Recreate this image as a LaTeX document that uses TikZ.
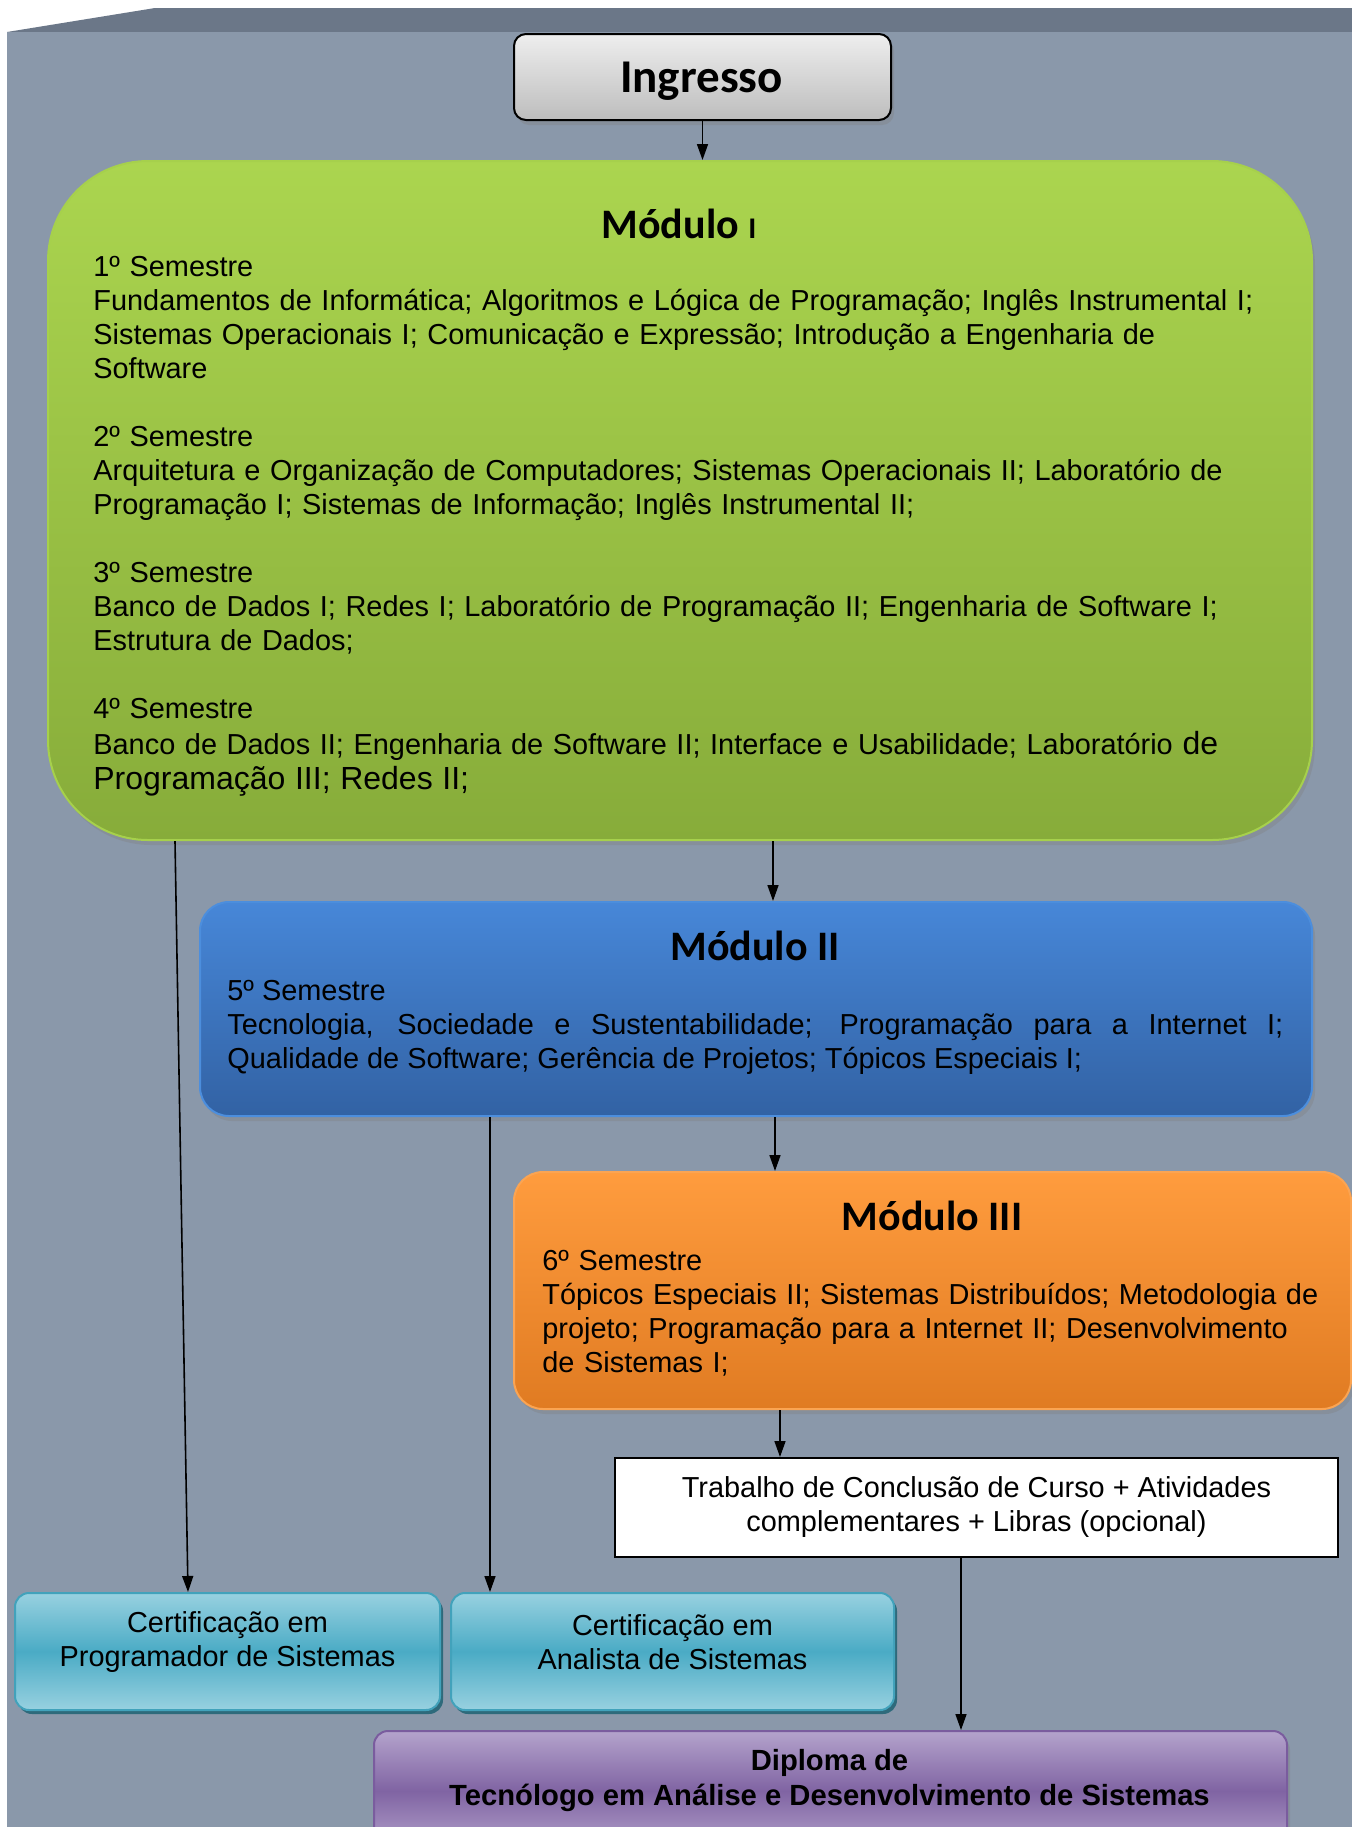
\documentclass[tikz,border=0pt]{standalone}
\usepackage{fontspec}
\setmainfont{Liberation Sans}
\newfontfamily\calibri{Carlito}
\usetikzlibrary{arrows.meta,shadows,calc}
\definecolor{bgfront}{HTML}{8A98AA}
\definecolor{bgtop}{HTML}{6B7788}
\definecolor{g1}{HTML}{ABD54F}
\definecolor{g2}{HTML}{87AC3A}
\definecolor{grim}{HTML}{A6D04C}
\definecolor{b1}{HTML}{4787D8}
\definecolor{b2}{HTML}{3262A4}
\definecolor{brim}{HTML}{4C8EDD}
\definecolor{o1}{HTML}{FF9C3E}
\definecolor{o2}{HTML}{E07B22}
\definecolor{orim}{HTML}{FBA452}
\definecolor{t1}{HTML}{98D1E0}
\definecolor{t2}{HTML}{4AABC5}
\definecolor{trim}{HTML}{42A2BB}
\definecolor{tshd}{HTML}{2E6A7B}
\definecolor{p1}{HTML}{B4A3CC}
\definecolor{p2}{HTML}{8064A3}
\definecolor{prim}{HTML}{7A5C9E}
\definecolor{gr1}{HTML}{EEEEEE}
\definecolor{gr2}{HTML}{BDBDBD}
\begin{document}
\begin{tikzpicture}[x=0.5pt,y=-0.5pt,
  box/.style={anchor=north west, inner sep=0pt, line width=1pt},
  body/.style={font=\fontsize{14.45}{17}\selectfont, inner sep=0pt},
  ttl/.style={font=\calibri\bfseries\fontsize{21}{24}\selectfont, inner sep=0pt, anchor=base},
  arr/.style={-{Triangle[length=8pt,width=5.5pt]}, line width=0.8pt, black},
  shd/.style={drop shadow={shadow xshift=1.5pt, shadow yshift=-2.5pt, opacity=0.35}},
  tealbox/.style={box, rounded corners=7pt, minimum height=58.5pt, top color=t1, bottom color=t1, middle color=t2, draw=trim,
    drop shadow={shadow xshift=1.5pt, shadow yshift=-2pt, opacity=1, fill=tshd}},
]
\clip (0,0) rectangle (1352,1827);
\fill[white] (0,0) rectangle (1352,1827);
\fill[bgtop] (7,32) -- (155,8) -- (1352,8) -- (1352,32) -- cycle;
\fill[bgfront] (7,32) rectangle (1352,1827);

% Ingresso
\node[box, shd, rounded corners=6pt, minimum width=188.5pt, minimum height=43pt,
  top color=gr1, bottom color=gr2, draw=black] (ing) at (513,33) {};
\node[font=\calibri\bfseries\fontsize{23.5}{26}\selectfont, inner sep=0pt, anchor=base] (ingt) at (701.5,92) {Ingresso};

% Module I
\node[box, shd, rounded corners=50pt, minimum width=632pt, minimum height=339.5pt,
  top color=g1, bottom color=g2, draw=grim] (m1) at (47,160) {};
\node[ttl] (m1h) at (679,238) {Módulo {\fontsize{15}{15}\selectfont I}};
\node[body, anchor=base west, text width=610pt, align=left] (m1t) at (93,276) {%
1º Semestre\\
Fundamentos de Informática; Algoritmos e Lógica de Programação; Inglês Instrumental I;\\
Sistemas Operacionais I; Comunicação e Expressão; Introdução a Engenharia de\\
Software\\[17pt]
2º Semestre\\
Arquitetura e Organização de Computadores; Sistemas Operacionais II; Laboratório de\\
Programação I; Sistemas de Informação; Inglês Instrumental II;\\[17pt]
3º Semestre\\
Banco de Dados I; Redes I; Laboratório de Programação II; Engenharia de Software I;\\
Estrutura de Dados;\\[17pt]
4º Semestre\\[1pt]
Banco de Dados II; Engenharia de Software II; Interface e Usabilidade; Laboratório {\fontsize{16}{17}\selectfont de}\\[0.5pt]
{\fontsize{16}{17}\selectfont Programação III; Redes II;}};

% Module II
\node[box, shd, rounded corners=14.5pt, minimum width=556pt, minimum height=107pt,
  top color=b1, bottom color=b2, draw=brim] (m2) at (199,901) {};
\node[ttl] (m2h) at (755,960) {Módulo II};
\node[body, anchor=base west, text width=528pt, align=justify] (m2t) at (227,1000) {\tolerance=9999
5º Semestre\\
Tecnologia, Sociedade e Sustentabilidade; Programação para a Internet I;\linebreak
Qualidade de Software; Gerência de Projetos; Tópicos Especiais I;};

% Module III
\node[box, shd, rounded corners=14.5pt, minimum width=418.5pt, minimum height=118.5pt,
  top color=o1, bottom color=o2, draw=orim] (m3) at (513,1171) {};
\node[ttl] (m3h) at (932,1230) {Módulo III};
\node[body, anchor=base west, text width=404pt, align=left] (m3t) at (542,1270) {%
6º Semestre\\
Tópicos Especiais II; Sistemas Distribuídos; Metodologia de\\
projeto; Programação para a Internet II; Desenvolvimento\\
de Sistemas I;};

% TCC
\node[box, body, fill=white, draw=black, minimum width=361.5pt, minimum height=49.5pt, align=center] (tcc) at (614,1457)
  {Trabalho de Conclusão de Curso + Atividades\\ complementares + Libras (opcional)};

% Certifications
\node[tealbox, minimum width=212.5pt] (c1) at (14,1592) {};
\node[body, align=center] (c1t) at ($(c1.center)+(0,-9)$) {Certificação em\\ Programador de Sistemas};
\node[tealbox, minimum width=221.5pt] (c2) at (450,1592) {};
\node[body, align=center] (c2t) at ($(c2.center)+(0,-9)$) {Certificação em\\ Analista de Sistemas};

% Diploma
\node[box, shd, rounded corners=7pt, minimum width=456.5pt, minimum height=60pt,
  top color=p1, bottom color=p1, middle color=p2, draw=prim] (dip) at (373,1730) {};
\node[body, font=\bfseries\fontsize{14.6}{17.5}\selectfont, align=center] (dipt) at (829.5,1780)
  {Diploma de\\ Tecnólogo em Análise e Desenvolvimento de Sistemas};

% Connectors
\coordinate (m1out) at ($(m1.south west)+(128,0)$);
\coordinate (c1in) at ($(c1.north west)+(174,0)$);
\coordinate (m2out) at ($(m2.south west)+(291,0)$);
\draw[arr] (ing.south) -- (ing.south |- m1.north);
\draw[arr] ([xshift=8.5pt]m2.north |- m1.south) -- ([xshift=8.5pt]m2.north);
\draw[arr] ([xshift=9.5pt]m2.south) -- ([xshift=9.5pt]m2.south |- m3.north);
\draw[arr] ([xshift=-76.25pt]m3.south) -- ([xshift=-76.25pt]m3.south |- tcc.north);
\draw[arr] ([xshift=-7.75pt]tcc.south) -- ([xshift=-7.75pt]tcc.south |- dip.north);
\draw[arr] (m1out) -- (c1in);
\draw[arr] (m2out) -- (m2out |- c2.north);
\end{tikzpicture}
\end{document}
